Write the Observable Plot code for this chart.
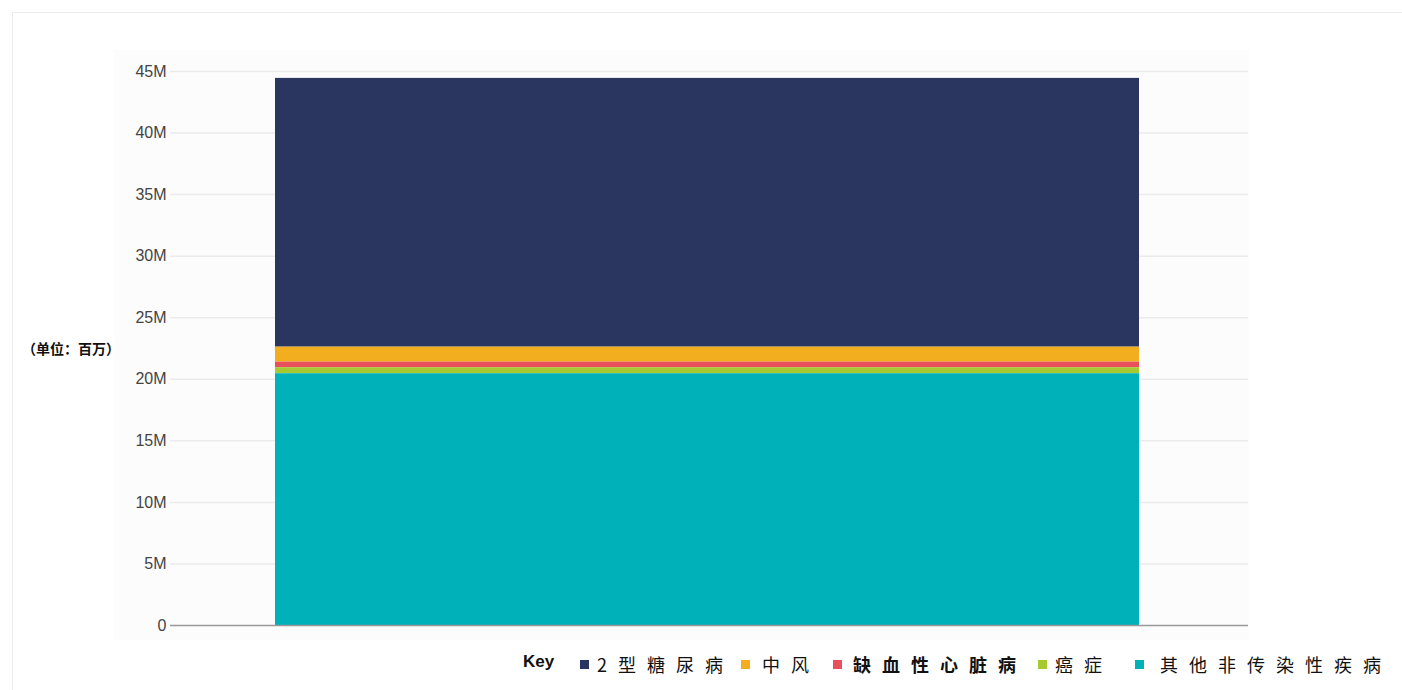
<!DOCTYPE html>
<html><head><meta charset="utf-8">
<script src="https://cdn.jsdelivr.net/npm/d3@7"></script>
<script src="https://cdn.jsdelivr.net/npm/@observablehq/plot@0.6"></script>
<style>
body{margin:0;background:#fff;font-family:"Noto Sans CJK SC","Liberation Sans",sans-serif;width:1402px;height:690px;overflow:hidden;position:relative}
#card{position:absolute;left:12px;top:12px;width:1400px;height:700px;border:1px solid #ececec;box-sizing:border-box}
#panel{position:absolute;left:114px;top:50px;width:1135px;height:590px;background:#fcfcfc}
#chart{position:absolute;left:0;top:0}
#ylab{position:absolute;left:22px;top:338px;font-size:14px;font-weight:bold;color:#111}
#legend{position:absolute;left:0;top:651px;width:1402px;height:30px;font-size:18px;color:#111;white-space:nowrap}
#legend .key{position:absolute;left:523px;top:1px;font-family:"Liberation Sans",Arial,sans-serif;font-weight:bold;font-size:17px}
#legend .sw{position:absolute;top:9px;width:9px;height:9px}
#legend .tx{position:absolute;top:0;letter-spacing:11px}
</style></head>
<body>
<div id="card"></div>
<div id="panel"></div>
<div id="chart"></div>
<div id="ylab">（单位：百万）</div>
<div id="legend"></div>
<script>
const categories = ["2型糖尿病","中风","缺血性心脏病","癌症","其他非传染性疾病"];
const values = [21.83, 1.22, 0.45, 0.49, 20.45]; // millions
const colors = ["#2b3660","#f3ae1f","#e8515b","#a6c934","#00b1ba"];
const stackOrder = ["其他非传染性疾病","癌症","缺血性心脏病","中风","2型糖尿病"];
const yTicks = [0,5,10,15,20,25,30,35,40,45];
const yTickLabels = ["0","5M","10M","15M","20M","25M","30M","35M","40M","45M"];

// legend layout (pixel positions of swatch and label)
const legendSwatchX = [580,741,833,1038,1135];
const legendTextX = [597,762,853,1055,1160];

const data = categories.map((c,i)=>({group:"all", cat:c, value:values[i]}));

const plot = Plot.plot({
  width:1402, height:645,
  marginLeft:170, marginRight:154, marginTop:71, marginBottom:20,
  style:{background:"transparent", fontSize:"16px", fontFamily:"'Liberation Sans',Arial,sans-serif", color:"#444"},
  x:{domain:["all"], padding:0.11, align:0.49, axis:null},
  y:{domain:[0,45], ticks:yTicks, tickFormat:(d)=>yTickLabels[yTicks.indexOf(d)], tickSize:0, tickPadding:4, label:null, grid:false},
  color:{domain:categories, range:colors},
  marks:[
    Plot.ruleY(yTicks.filter(d=>d>0), {stroke:"#ebebeb", strokeWidth:1.5, strokeOpacity:1}),
    Plot.barY(data, Plot.stackY({x:"group", y:"value", fill:"cat", order:stackOrder})),
    Plot.ruleY([0], {stroke:"#999", strokeWidth:1.5}),
    Plot.axisY({ticks:yTicks, tickFormat:(d)=>yTickLabels[yTicks.indexOf(d)], tickSize:0, tickPadding:4, label:null, fontSize:16})
  ]
});
document.getElementById("chart").appendChild(plot);

const leg = document.getElementById("legend");
leg.innerHTML = `<span class="key">Key</span>` + categories.map((c,i)=>
  `<span class="sw" style="left:${legendSwatchX[i]}px;background:${colors[i]}"></span><span class="tx" style="left:${legendTextX[i]}px${i===2?';font-weight:bold':''}">${c}</span>`).join("");
</script>
</body></html>
